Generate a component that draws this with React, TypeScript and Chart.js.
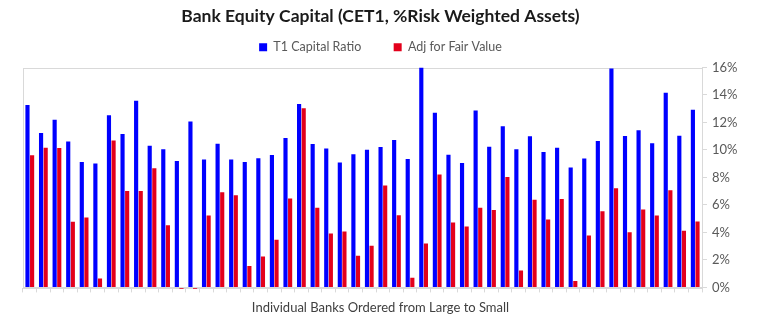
import React, { useEffect, useRef } from "react";
import { Chart, registerables } from "chart.js";

Chart.register(...registerables);

const categories: string[] = Array.from({ length: 50 }, (_, i) => `Bank ${i + 1}`);

const t1CapitalRatio: number[] = [
  13.27, 11.23, 12.2, 10.61, 9.13, 9.01, 12.52, 11.16, 13.58, 10.31,
  10.05, 9.2, 12.08, 9.3, 10.46, 9.3, 9.13, 9.39, 9.64, 10.87,
  13.34, 10.44, 10.1, 9.08, 9.69, 10.02, 10.22, 10.73, 9.35, 16.0,
  12.71, 9.66, 9.06, 12.88, 10.24, 11.72, 10.05, 10.99, 9.85, 10.17,
  8.72, 9.37, 10.65, 15.93, 11.02, 11.43, 10.48, 14.16, 11.04, 12.93,
];

const adjForFairValue: number[] = [
  9.61, 10.17, 10.15, 4.77, 5.08, 0.65, 10.68, 7.02, 7.02, 8.67,
  4.53, -0.1, -0.1, 5.23, 6.92, 6.71, 1.55, 2.25, 3.46, 6.46,
  13.03, 5.79, 3.92, 4.07, 2.3, 3.03, 7.41, 5.25, 0.7, 3.2,
  8.21, 4.72, 4.43, 5.79, 5.64, 8.04, 1.23, 6.37, 4.94, 6.44,
  0.46, 3.78, 5.54, 7.22, 4.02, 5.67, 5.23, 7.07, 4.12, 4.79,
];

const yTicks: number[] = [0, 2, 4, 6, 8, 10, 12, 14, 16];

const FONT = "Lato, 'Open Sans', sans-serif";

const frame = {
  id: "frame",
  beforeInit(chart: any) {
    const legend = chart.legend;
    if (legend) {
      const origFit = legend.fit;
      legend.fit = function () {
        origFit.call(this);
        this.height += 4;
      };
    }
  },
  beforeDatasetsDraw(chart: any) {
    const { ctx, chartArea } = chart;
    ctx.save();
    ctx.strokeStyle = "#d9d9d9";
    ctx.lineWidth = 1;
    ctx.strokeRect(
      Math.round(chartArea.left) + 0.5,
      Math.round(chartArea.top) + 0.5,
      Math.round(chartArea.right - chartArea.left),
      Math.round(chartArea.bottom - chartArea.top)
    );
    ctx.restore();
  },
};

export default function App() {
  const ref = useRef<HTMLCanvasElement | null>(null);

  useEffect(() => {
    document.body.style.margin = "0";
    if (!ref.current) return;
    const chart = new Chart(ref.current, {
      type: "bar",
      data: {
        labels: categories,
        datasets: [
          {
            label: "T1 Capital Ratio",
            data: t1CapitalRatio,
            backgroundColor: "#0000ff",
            barPercentage: 0.9,
            categoryPercentage: 0.68,
          },
          {
            label: "Adj for Fair Value",
            data: adjForFairValue,
            backgroundColor: "#e3001b",
            barPercentage: 0.9,
            categoryPercentage: 0.68,
            clip: { left: 0, top: 0, right: 0, bottom: 4 } as any,
          },
        ],
      },
      options: {
        animation: false,
        responsive: false,
        maintainAspectRatio: false,
        layout: { padding: { left: 23, right: 30, top: 0, bottom: 0 } },
        plugins: {
          title: {
            display: true,
            text: "Bank Equity Capital (CET1, %Risk Weighted Assets)",
            color: "#1a1a1a",
            font: { family: FONT, size: 17.5, weight: "bold" },
            padding: { top: 6, bottom: 4 },
          },
          legend: {
            display: true,
            position: "top",
            labels: {
              boxWidth: 8,
              boxHeight: 8,
              color: "#595959",
              font: { family: FONT, size: 12.5 },
              padding: 10,
              generateLabels: (c: any) =>
                c.data.datasets.map((d: any, i: number) => ({
                  text: i === 0 ? d.label + "       " : d.label,
                  fillStyle: d.backgroundColor,
                  strokeStyle: d.backgroundColor,
                  lineWidth: 0,
                  fontColor: "#595959",
                  datasetIndex: i,
                  hidden: false,
                })),
            },
          },
          subtitle: {
            display: true,
            position: "bottom",
            text: "Individual Banks Ordered from Large to Small",
            color: "#404040",
            font: { family: FONT, size: 13 },
            padding: { top: 8, bottom: 5 },
          },
          tooltip: { enabled: false },
        },
        scales: {
          x: {
            grid: {
              display: true,
              drawOnChartArea: false,
              drawTicks: true,
              tickLength: 5,
              color: "#d9d9d9",
              offset: true,
            },
            border: { display: true, color: "#d9d9d9" },
            ticks: { display: false },
          },
          y: {
            position: "right",
            min: 0,
            max: 16,
            afterBuildTicks: (axis: any) => {
              axis.ticks = yTicks.map((v) => ({ value: v }));
            },
            afterFit: (axis: any) => {
              axis.width = 36;
            },
            grid: {
              display: true,
              drawOnChartArea: false,
              drawTicks: true,
              tickLength: 5,
              color: "#d9d9d9",
            },
            border: { display: true, color: "#d9d9d9" },
            ticks: {
              color: "#595959",
              font: { family: FONT, size: 13 },
              padding: 5,
              callback: (v: any) => `${v}%`,
            },
          },
        },
      },
      plugins: [frame],
    });
    return () => chart.destroy();
  }, []);

  return (
    <div style={{ width: 768, height: 321 }}>
      <canvas ref={ref} width={768} height={321} style={{ display: "block" }} />
    </div>
  );
}
